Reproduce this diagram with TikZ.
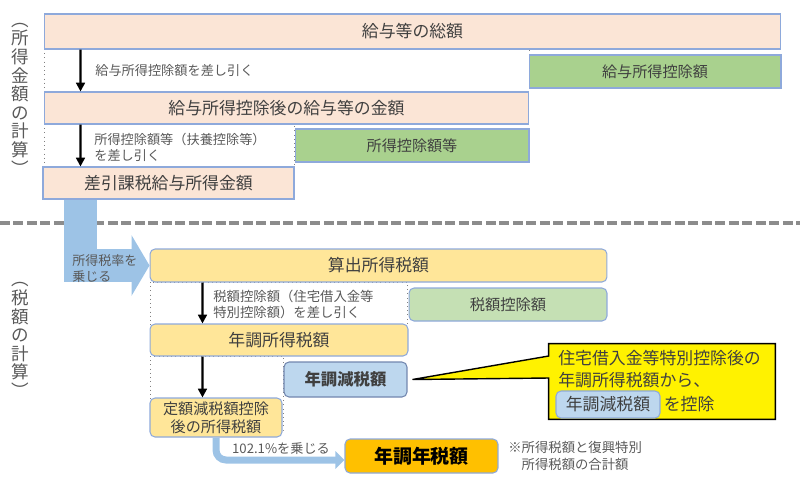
\documentclass[tikz,border=0pt]{standalone}
\usepackage{fontspec}
\setmainfont{Noto Sans CJK JP}
\usepackage{tikz}
\usetikzlibrary{calc}
\usetikzlibrary{arrows.meta, positioning}
\definecolor{peach}{HTML}{FBE5D6}
\definecolor{grn}{HTML}{A9D18E}
\definecolor{lgrn}{HTML}{C5E0B4}
\definecolor{ylw}{HTML}{FFE699}
\definecolor{lblue}{HTML}{BDD7EE}
\definecolor{orng}{HTML}{FFC000}
\definecolor{arrowblue}{HTML}{9DC3E6}
\definecolor{edgeblue}{HTML}{8EA9DB}
\definecolor{txtgrey}{HTML}{404040}
\definecolor{lblgrey}{HTML}{595959}
\tikzset{>={Stealth[inset=0pt, length=5pt, width=5pt]}}
\tikzset{
  sqbox/.style={draw=edgeblue, line width=0.6pt, text=txtgrey, inner sep=0pt,
    font=\fontsize{9.6}{11}\selectfont},
  gbox/.style={sqbox, fill=grn, font=\fontsize{8.6}{10}\selectfont},
  rdbox/.style={sqbox, rounded corners=0.1cm},
  lbl/.style={text=lblgrey, inner sep=0pt, align=left, font=\fontsize{7.5}{9.4}\selectfont},
  vlabel/.style={text=lblgrey, inner sep=0pt, align=center, font=\fontsize{10}{10.6}\selectfont},
  calltext/.style={text=txtgrey, inner sep=0pt, font=\fontsize{9.6}{11}\selectfont},
  frame/.style={draw=gray, dotted, line width=0.4pt},
  stepline/.style={->, line width=1.2pt},
  fatarrow/.style={draw=arrowblue, line width=0.66cm, -{Triangle[length=0.36cm, width=1.2cm]}},
  thinarrow/.style={draw=arrowblue, line width=0.14cm, rounded corners=0.2cm, -{Triangle[length=0.18cm, width=0.34cm]}}
}
\begin{document}
\begin{tikzpicture}[x=0.02cm, y=-0.02cm]
\useasboundingbox (0, 0) rectangle (800, 481);

\draw[frame] (44, 49) rectangle (529, 92);
\draw[frame] (44, 124) rectangle (294, 167);
\draw[frame] (150, 282) rectangle (407, 324);
\draw[frame] (150, 356) rectangle (283, 430);
\draw[draw=gray!90, line width=0.08cm, dash pattern=on 0.2cm off 0.07cm] (0, 223) -- (800, 223);

\node (incalc) at (20, 99) [vlabel] {︵\\所\\得\\金\\額\\の\\計\\算\\︶};
\node (taxcalc) at (20, 340) [vlabel] {︵\\税\\額\\の\\計\\算\\︶};

\node (total) at (412.5, 31.5) [sqbox, fill=peach, minimum width=14.74cm, minimum height=0.70cm] {給与等の総額};
\node (kyded) at (655, 71.5) [gbox, minimum width=5.04cm, minimum height=0.66cm] {給与所得控除額};
\node (afterded) at (286.5, 108) [sqbox, fill=peach, minimum width=9.70cm, minimum height=0.64cm] {給与所得控除後の給与等の金額};
\node (incded) at (412, 145.5) [gbox, minimum width=4.68cm, minimum height=0.66cm] {所得控除額等};
\node (taxable) at (168.5, 183) [sqbox, fill=peach, minimum width=5.02cm, minimum height=0.64cm] {差引課税給与所得金額};

\draw[stepline] ([xshift=0.74cm]total.south west) -- ([xshift=0.74cm]afterded.north west);
\node at (95, 70) [anchor=west, lbl] {給与所得控除額を差し引く};
\draw[stepline] ([xshift=0.74cm]afterded.south west) -- ([xshift=0.76cm]taxable.north west);
\node at (94, 147.5) [anchor=west, lbl] {所得控除額等（扶養控除等）\\を差し引く};

\node (sanshutsu) at (378.5, 265.5) [rdbox, fill=ylw, minimum width=9.14cm, minimum height=0.66cm] {算出所得税額};
\node (zeided) at (508, 304.5) [rdbox, fill=lgrn, minimum width=3.96cm, minimum height=0.66cm, font=\fontsize{8.7}{10}\selectfont] {税額控除額};
\node (nencho) at (279, 340) [rdbox, fill=ylw, minimum width=5.16cm, minimum height=0.64cm] {年調所得税額};
\node (genzei) at (345.5, 379.5) [rdbox, fill=lblue, draw=edgeblue!80!black, minimum width=2.46cm, minimum height=0.70cm, font=\fontsize{9.3}{11}\bfseries] {年調減税額};
\node (teigaku) at (216, 417.5) [rdbox, fill=ylw, minimum width=2.64cm, minimum height=0.78cm, align=center, font=\fontsize{8.6}{10.2}\selectfont] {定額減税額控除\\後の所得税額};
\node (nenzei) at (421.5, 456) [rdbox, fill=orng, minimum width=3.06cm, minimum height=0.68cm, text=black, font=\fontsize{10.8}{12}\bfseries] {年調年税額};

\draw[fatarrow] ([xshift=0.77cm]taxable.south west) |- (sanshutsu.west);
\node at (72, 268.5) [anchor=west, lbl, font=\fontsize{7.4}{9.6}\selectfont] {所得税率を\\乗じる};

\draw[stepline] ([xshift=1.06cm]sanshutsu.south west) -- ([xshift=1.06cm]nencho.north west);
\node at (213, 304) [anchor=west, lbl, font=\fontsize{7.6}{9.2}\selectfont] {税額控除額（住宅借入金等\\特別控除額）を差し引く};
\draw[stepline] ([xshift=1.06cm]nencho.south west) -- ([xshift=1.06cm]teigaku.north west);

\draw[thinarrow] (teigaku.south) |- ([yshift=-0.08cm]nenzei.west);
\node (rate) at (281, 449) [lbl] {102.1\%を乗じる};
\node (note) at (508, 455.5) [anchor=west, lbl, font=\fontsize{7.6}{9.6}\selectfont] {※所得税額と復興特別\\\hspace{1em}所得税額の合計額};

\node (callout) at (662, 381.5) [minimum width=4.52cm, minimum height=1.5cm] {};
\draw[fill=yellow, draw=black, line width=0.8pt] (callout.north west) -- (callout.north east) -- (callout.south east) -- (callout.south west) -- ([yshift=0.07cm]callout.west) -- ([xshift=0.1cm]genzei.east) -- ([yshift=0.51cm]callout.west) -- cycle;
\node (cl1) at (558, 358) [anchor=west, calltext] {住宅借入金等特別控除後の};
\node (cl2) at (558, 380) [anchor=west, calltext] {年調所得税額から、};
\node (cbox) at (608, 404.5) [rdbox, fill=lblue, minimum width=2.08cm, minimum height=0.54cm] {年調減税額};
\node (cl3) [right=0.06cm of cbox, calltext] {を控除};
\end{tikzpicture}
\end{document}
